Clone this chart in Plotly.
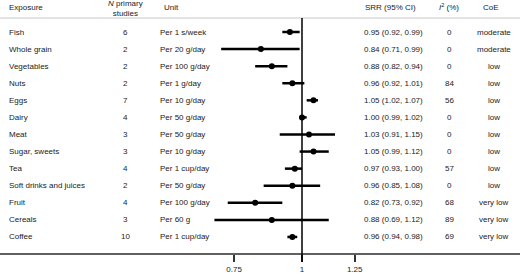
import math
import plotly.graph_objects as go

# ---- data ----
exposures = ["Fish", "Whole grain", "Vegetables", "Nuts", "Eggs", "Dairy", "Meat",
             "Sugar, sweets", "Tea", "Soft drinks and juices", "Fruit", "Cereals", "Coffee"]
n_studies = [6, 2, 2, 2, 7, 4, 3, 3, 4, 2, 4, 3, 10]
units = ["Per 1 s/week", "Per 20 g/day", "Per 100 g/day", "Per 1 g/day", "Per 10 g/day",
         "Per 50 g/day", "Per 50 g/day", "Per 10 g/day", "Per 1 cup/day", "Per 50 g/day",
         "Per 100 g/day", "Per 60 g", "Per 1 cup/day"]
srr = [0.95, 0.84, 0.88, 0.96, 1.05, 1.00, 1.03, 1.05, 0.97, 0.96, 0.82, 0.88, 0.96]
ci_lo = [0.92, 0.71, 0.82, 0.92, 1.02, 0.99, 0.91, 0.99, 0.93, 0.85, 0.73, 0.69, 0.94]
ci_hi = [0.99, 0.99, 0.94, 1.01, 1.07, 1.02, 1.15, 1.12, 1.00, 1.08, 0.92, 1.12, 0.98]
i2 = [0, 0, 0, 84, 56, 0, 0, 0, 57, 0, 68, 89, 69]
coe = ["moderate", "moderate", "low", "low", "low", "low", "low", "low", "low", "low",
       "very low", "very low", "very low"]
tick_vals = [0.75, 1, 1.25]
tick_text = ["0.75", "1", "1.25"]

W, H = 520, 273
FONT = "Liberation Sans, Arial, sans-serif"
TXT = "#222222"
FS = 8

rows = list(range(len(exposures)))

# pixel layout helpers
row0_px, row_step = 32.0, 17.08
axis_px = 254.0
px_per_log10 = 236.0 * math.log(10)
one_px = 302.0
x_range = [-one_px / px_per_log10, (W - one_px) / px_per_log10]
y_top = (0 - row0_px) / row_step
y_bot = (axis_px - row0_px) / row_step

def px(x):
    return x / W

def py(y):
    return 1 - y / H

fig = go.Figure()

# CI lines
lx, ly = [], []
for r, lo, hi in zip(rows, ci_lo, ci_hi):
    lx += [lo, hi, None]
    ly += [r, r, None]
fig.add_trace(go.Scatter(x=lx, y=ly, mode="lines", line=dict(color="black", width=2.5),
                         hoverinfo="skip", showlegend=False))
fig.add_trace(go.Scatter(x=srr, y=rows, mode="markers",
                         marker=dict(color="black", size=6, symbol="circle"),
                         showlegend=False))

ann = []
def add(text, x, y, xanchor="left", yref="y"):
    ann.append(dict(text=text, x=x, y=y, xref="paper", yref=yref, xanchor=xanchor,
                    yanchor="middle", showarrow=False,
                    font=dict(family=FONT, size=FS, color=TXT)))

for r in rows:
    add(exposures[r], px(7), r, "left")
    add(str(n_studies[r]), px(125), r, "center")
    add(units[r], px(158), r, "left")
    add(f"{srr[r]:.2f} ({ci_lo[r]:.2f}, {ci_hi[r]:.2f})", px(362), r, "left")
    add(str(i2[r]), px(449), r, "center")
    add(coe[r], px(494), r, "center")

# headers
add("Exposure", px(7), py(7), "left", "paper")
add("<i>N</i> primary<br>studies", px(125), py(9), "center", "paper")
add("Unit", px(162), py(7), "left", "paper")
add("SRR (95% CI)", px(363), py(7), "left", "paper")
add("<i>I</i><sup>2</sup> (%)", px(449), py(7), "center", "paper")
add("CoE", px(491), py(7), "center", "paper")

shapes = [
    dict(type="line", xref="paper", yref="paper", x0=0, x1=1, y0=py(18), y1=py(18),
         line=dict(color="#c8c8c8", width=1)),
    dict(type="line", xref="paper", yref="paper", x0=0, x1=1, y0=py(axis_px), y1=py(axis_px),
         line=dict(color="#606060", width=2)),
    dict(type="line", xref="x", yref="paper", x0=1, x1=1, y0=py(18), y1=py(262),
         line=dict(color="black", width=1.5)),
]

fig.update_layout(
    width=W, height=H, margin=dict(l=0, r=0, t=0, b=0),
    paper_bgcolor="white", plot_bgcolor="white",
    annotations=ann, shapes=shapes,
    xaxis=dict(type="log", range=x_range, domain=[0, 1], showgrid=False, zeroline=False,
               showline=False,
               tickvals=tick_vals, ticktext=tick_text, ticks="outside", ticklen=7,
               tickwidth=1.5, tickcolor="#333333",
               tickfont=dict(family=FONT, size=FS, color=TXT)),
    yaxis=dict(range=[y_bot, y_top], domain=[1 - axis_px / H, 1], showgrid=False,
               zeroline=False, showticklabels=False, showline=False, ticks=""),
    font=dict(family=FONT, size=FS, color=TXT),
)

fig.write_html("out.html", config={"displayModeBar": False},
               post_script="document.body.style.margin='0';document.body.style.overflow='hidden';")
